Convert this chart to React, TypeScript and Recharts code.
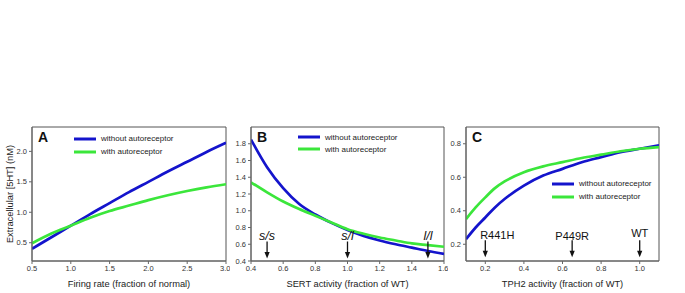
import React from "react";
import {
  LineChart,
  Line,
  XAxis,
  YAxis,
  ReferenceArea,
  ReferenceDot,
  Legend,
} from "recharts";

// panel A: firing rate
const firingRate = [0.5, 0.75, 1.0, 1.25, 1.5, 1.75, 2.0, 2.25, 2.5, 2.75, 3.0];
const firingWithout = [0.4, 0.59, 0.78, 0.97, 1.15, 1.33, 1.5, 1.67, 1.83, 1.99, 2.14];
const firingWith = [0.49, 0.65, 0.78, 0.91, 1.02, 1.11, 1.2, 1.28, 1.35, 1.41, 1.46];

// panel B: SERT activity
const sertActivity = [0.4, 0.5, 0.6, 0.7, 0.8, 0.9, 1.0, 1.1, 1.2, 1.3, 1.4, 1.5, 1.6];
const sertWithout = [1.85, 1.52, 1.27, 1.08, 0.955, 0.855, 0.77, 0.7, 0.645, 0.6, 0.56, 0.52, 0.485];
const sertWith = [1.34, 1.22, 1.11, 1.02, 0.94, 0.86, 0.78, 0.725, 0.68, 0.645, 0.61, 0.59, 0.57];

// panel C: TPH2 activity
const tphActivity = [0.1, 0.15, 0.2, 0.25, 0.3, 0.4, 0.5, 0.6, 0.7, 0.8, 0.9, 1.0, 1.1];
const tphWithout = [0.23, 0.3, 0.36, 0.42, 0.47, 0.55, 0.61, 0.65, 0.69, 0.72, 0.75, 0.77, 0.79];
const tphWith = [0.35, 0.42, 0.48, 0.535, 0.575, 0.63, 0.665, 0.69, 0.715, 0.735, 0.755, 0.77, 0.78];

const ticksA_x = [0.5, 1.0, 1.5, 2.0, 2.5, 3.0];
const ticksA_y = [0.5, 1.0, 1.5, 2.0];
const ticksB_x = [0.4, 0.6, 0.8, 1.0, 1.2, 1.4, 1.6];
const ticksB_y = [0.4, 0.6, 0.8, 1.0, 1.2, 1.4, 1.6, 1.8];
const ticksC_x = [0.2, 0.4, 0.6, 0.8, 1.0];
const ticksC_y = [0.2, 0.4, 0.6, 0.8];

const seriesOrder = ["without", "with"];
const seriesLabels = ["without autoreceptor", "with autoreceptor"];

const sertGenotypes = ["s/s", "s/l", "l/l"];
const sertGenotypeX = [0.5, 1.0, 1.5];
const tphVariants = ["R441H", "P449R", "WT"];
const tphVariantX = [0.2, 0.65, 1.0];

const BLUE = "#1414cc";
const GREEN = "#3be63b";
const FONT = "'Liberation Sans', Arial, Helvetica, sans-serif";
const AXIS = "#666";

function rows(xs: number[], a: number[], b: number[]) {
  return xs.map((x, i) => ({ x, without: a[i], with: b[i] }));
}

function LegendBox({ payload, gap }: any) {
  const items = seriesOrder
    .map((key) => (payload || []).find((p: any) => p.dataKey === key || p.value === key))
    .filter(Boolean);
  return (
    <div style={{ fontFamily: FONT, fontSize: 8, color: "#222" }}>
      {items.map((p: any, i: number) => (
        <div key={i} style={{ display: "flex", alignItems: "center", height: gap }}>
          <svg width={24} height={4} style={{ marginRight: 3 }}>
            <line x1={0} y1={2} x2={22} y2={2} stroke={p.color} strokeWidth={3} />
          </svg>
          <span>{seriesLabels[seriesOrder.indexOf(p.dataKey ?? p.value)]}</span>
        </div>
      ))}
    </div>
  );
}

function Arrow({ cx, cy, text, italic, size, lift, dx }: any) {
  return (
    <g>
      <line x1={cx} y1={cy - 17} x2={cx} y2={cy - 5} stroke="#111" strokeWidth={1.3} />
      <path d={`M${cx - 2.6},${cy - 6.5} L${cx + 2.6},${cy - 6.5} L${cx},${cy} Z`} fill="#111" />
      <text
        x={cx + (dx || 0)}
        y={cy - 18 - lift}
        textAnchor="middle"
        fontFamily={FONT}
        fontSize={size}
        fontStyle={italic ? "italic" : "normal"}
        fill="#111"
      >
        {text}
      </text>
    </g>
  );
}

const tickStyle = { fontSize: 7.5, fill: "#333", fontFamily: FONT };
const titleStyle = { fontSize: 9.3, fill: "#222", fontFamily: FONT };

type PanelProps = {
  left: number;
  width: number;
  yWidth: number;
  right: number;
  data: any[];
  xDomain: [number, number];
  yDomain: [number, number];
  xTicks: number[];
  yTicks: number[];
  xTitle: string;
  yTitle?: string;
  letter: string;
  legendPos: { left: number; top: number };
  legendGap: number;
  children?: React.ReactNode;
};

function Panel(p: PanelProps) {
  return (
    <div style={{ position: "absolute", left: p.left, top: 0 }}>
      <LineChart
        width={p.width}
        height={293}
        data={p.data}
        margin={{ top: 127, right: p.right, bottom: 0, left: 0 }}
      >
        <XAxis
          dataKey="x"
          type="number"
          domain={p.xDomain}
          ticks={p.xTicks}
          tickFormatter={(v: number) => v.toFixed(1)}
          tick={tickStyle}
          tickSize={3}
          stroke={AXIS}
          height={32}
          allowDataOverflow
          label={{ value: p.xTitle, position: "insideBottom", offset: 6, style: titleStyle }}
        />
        <YAxis
          type="number"
          domain={p.yDomain}
          ticks={p.yTicks}
          tickFormatter={(v: number) => v.toFixed(1)}
          tick={tickStyle}
          tickSize={3}
          stroke={AXIS}
          width={p.yWidth}
          allowDataOverflow
          label={
            p.yTitle
              ? {
                  value: p.yTitle,
                  angle: -90,
                  position: "insideLeft",
                  offset: 10,
                  style: { ...titleStyle, textAnchor: "middle" },
                }
              : undefined
          }
        />
        <ReferenceArea
          x1={p.xDomain[0]}
          x2={p.xDomain[1]}
          y1={p.yDomain[0]}
          y2={p.yDomain[1]}
          fill="none"
          stroke="#555"
          strokeWidth={1}
          fillOpacity={0}
        />
        <Legend
          layout="vertical"
          align="center"
          verticalAlign="middle"
          wrapperStyle={{ left: p.legendPos.left, top: p.legendPos.top, width: 130, height: 30 }}
          content={(props: any) => <LegendBox {...props} gap={p.legendGap} />}
        />
        <Line
          dataKey="without"
          name="without"
          stroke={BLUE}
          strokeWidth={2.7}
          dot={false}
          type="monotone"
          isAnimationActive={false}
        />
        <Line
          dataKey="with"
          name="with"
          stroke={GREEN}
          strokeWidth={2.7}
          dot={false}
          type="monotone"
          isAnimationActive={false}
        />
        {p.children}
      </LineChart>
      <div
        style={{
          position: "absolute",
          left: p.yWidth + 6,
          top: 129,
          fontFamily: FONT,
          fontWeight: "bold",
          fontSize: 14,
          color: "#111",
        }}
      >
        {p.letter}
      </div>
    </div>
  );
}

export default function App() {
  return (
    <div
      style={{
        position: "absolute",
        left: 0,
        top: 0,
        width: 685,
        height: 293,
        background: "#fff",
      }}
    >
      <Panel
        left={0}
        width={230}
        yWidth={32}
        right={4}
        data={rows(firingRate, firingWithout, firingWith)}
        xDomain={[0.5, 3.0]}
        yDomain={[0.2, 2.4]}
        xTicks={ticksA_x}
        yTicks={ticksA_y}
        xTitle="Firing rate (fraction of normal)"
        yTitle="Extracellular [5HT] (nM)"
        letter="A"
        legendPos={{ left: 74, top: 132 }}
        legendGap={13}
      />
      <Panel
        left={220}
        width={228}
        yWidth={31}
        right={4}
        data={rows(sertActivity, sertWithout, sertWith)}
        xDomain={[0.4, 1.6]}
        yDomain={[0.4, 2.0]}
        xTicks={ticksB_x}
        yTicks={ticksB_y}
        xTitle="SERT activity (fraction of WT)"
        letter="B"
        legendPos={{ left: 78, top: 131 }}
        legendGap={12}
      >
        {sertGenotypes.map((g, i) => (
          <ReferenceDot
            key={g}
            x={sertGenotypeX[i]}
            y={0.43}
            r={0}
            shape={(s: any) => <Arrow {...s} text={g} italic size={12.5} lift={0} />}
          />
        ))}
      </Panel>
      <Panel
        left={440}
        width={225}
        yWidth={26}
        right={6}
        data={rows(tphActivity, tphWithout, tphWith)}
        xDomain={[0.1, 1.1]}
        yDomain={[0.1, 0.9]}
        xTicks={ticksC_x}
        yTicks={ticksC_y}
        xTitle="TPH2 activity (fraction of WT)"
        letter="C"
        legendPos={{ left: 112, top: 177 }}
        legendGap={13}
      >
        {tphVariants.map((g, i) => (
          <ReferenceDot
            key={g}
            x={tphVariantX[i]}
            y={0.122}
            r={0}
            shape={(s: any) => (
              <Arrow
                {...s}
                text={g}
                size={11}
                dx={g === "R441H" ? 12 : 0}
                lift={g === "WT" ? 2 : g === "P449R" ? -1 : 0}
              />
            )}
          />
        ))}
      </Panel>
    </div>
  );
}
